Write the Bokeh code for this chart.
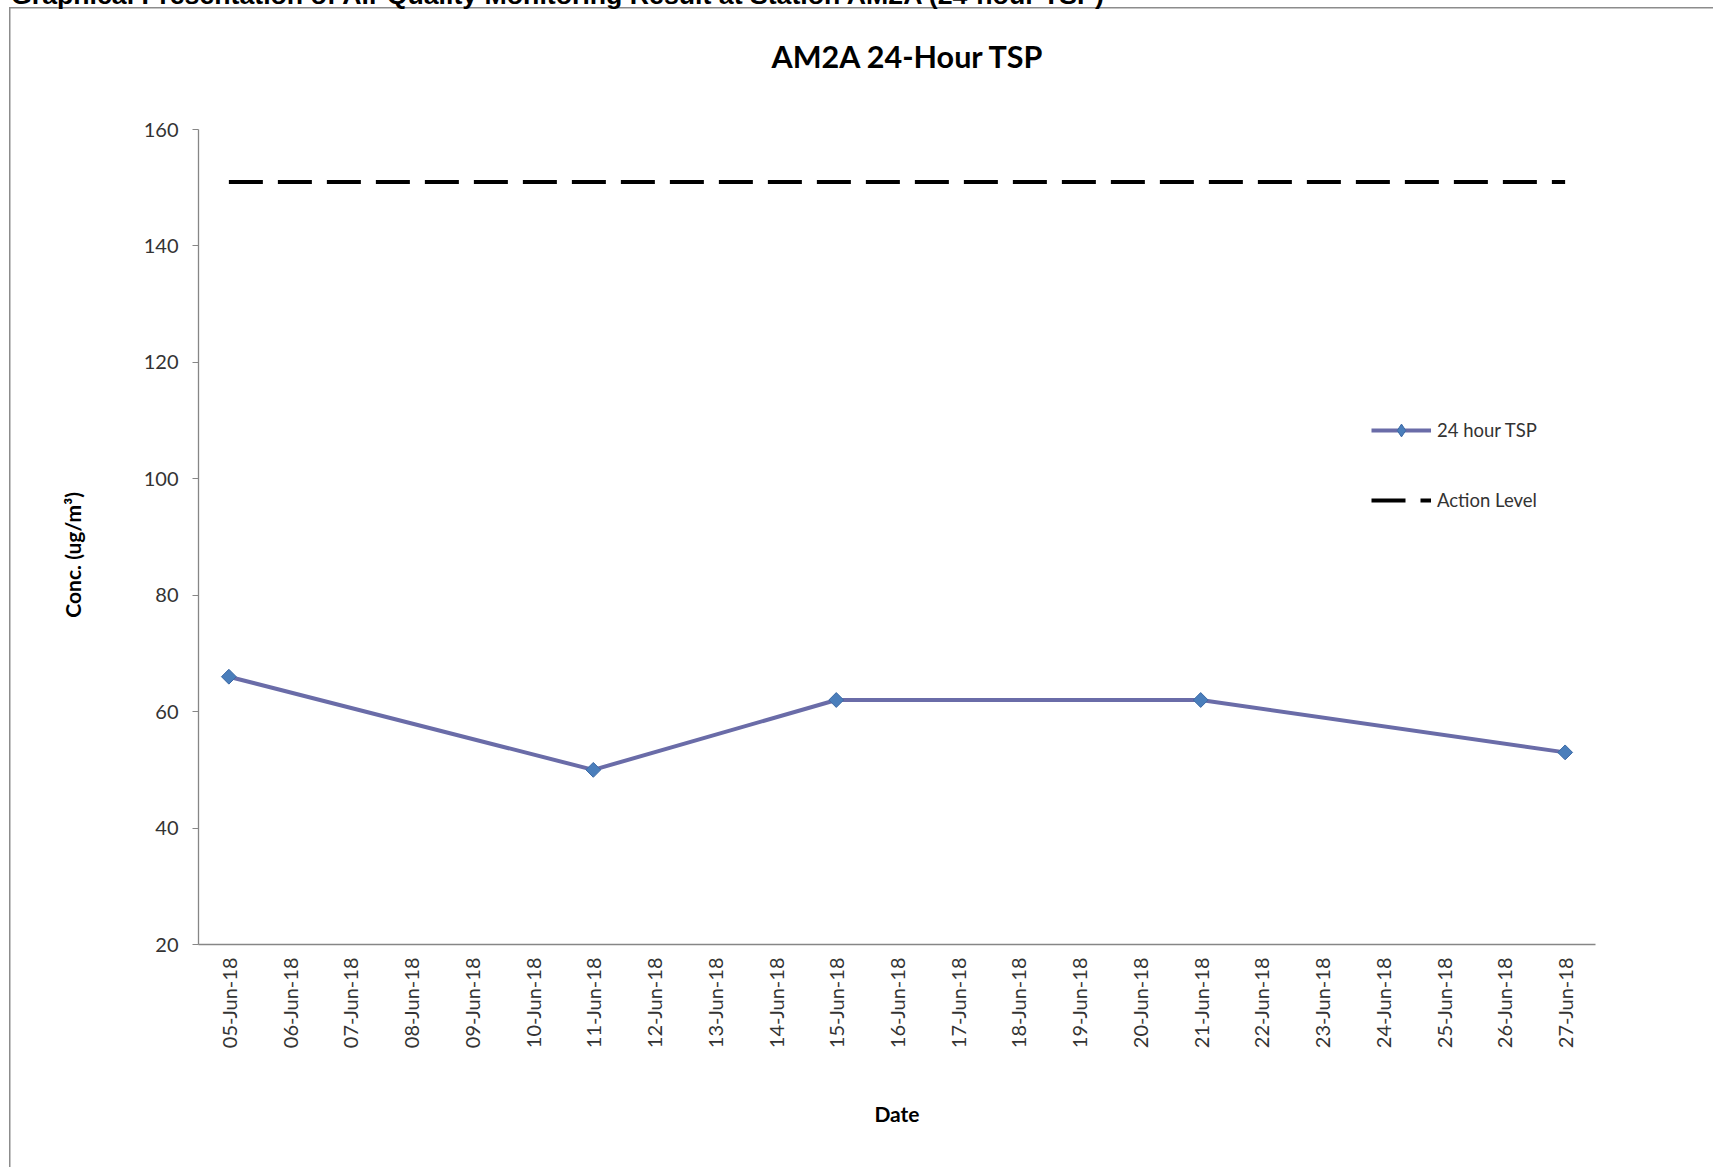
import math
from bokeh.plotting import figure
from bokeh.layouts import column
from bokeh.models import (Legend, LegendItem, FactorRange, Range1d, FixedTicker, Div)
from bokeh.embed import file_html
from bokeh.resources import INLINE

# ---------------- data ----------------
dates = ["05-Jun-18", "06-Jun-18", "07-Jun-18", "08-Jun-18", "09-Jun-18",
         "10-Jun-18", "11-Jun-18", "12-Jun-18", "13-Jun-18", "14-Jun-18",
         "15-Jun-18", "16-Jun-18", "17-Jun-18", "18-Jun-18", "19-Jun-18",
         "20-Jun-18", "21-Jun-18", "22-Jun-18", "23-Jun-18", "24-Jun-18",
         "25-Jun-18", "26-Jun-18", "27-Jun-18"]
tsp_dates = ["05-Jun-18", "11-Jun-18", "15-Jun-18", "21-Jun-18", "27-Jun-18"]
tsp_values = [66, 50, 62, 62, 53]
action_dates = ["05-Jun-18", "27-Jun-18"]
action_values = [151, 151]
y_ticks = [20, 40, 60, 80, 100, 120, 140, 160]

header_text = "Graphical Presentation of Air Quality Monitoring Result at Station AM2A (24-hour TSP)"
chart_title = "AM2A 24-Hour TSP"
y_label = "Conc. (ug/m\u00b3)"
x_label = "Date"

# ---------------- layout ----------------
W = 1713
SHIFT = 18          # whole column is moved up so the page header is cut at the top
HDR_H = 25          # header strip  (page y -18..7)
TTL_H = 70          # title strip   (page y 7..77)
H = 1167 + SHIFT - HDR_H - TTL_H
CANVAS_TOP = -SHIFT + HDR_H + TTL_H      # page y of the figure canvas
FL, FR = 198, 1595
FT = 129 - CANVAS_TOP
FB = 944 - CANVAS_TOP

font = "Lato"
tick_col = "#333333"

p = figure(width=W, height=H, output_backend="svg", toolbar_location=None,
           x_range=FactorRange(factors=dates, range_padding=0),
           y_range=Range1d(20, 160),
           min_border_left=FL, min_border_right=W - FR,
           min_border_top=FT, min_border_bottom=H - FB)
p.outline_line_color = None
p.grid.visible = False
p.background_fill_alpha = 0
p.border_fill_alpha = 0

p.yaxis.ticker = FixedTicker(ticks=y_ticks)
p.yaxis.axis_line_color = "#868686"
p.yaxis.axis_line_width = 1.3
p.yaxis.major_tick_line_color = "#868686"
p.yaxis.major_tick_out = 6
p.yaxis.major_tick_in = 0
p.yaxis.minor_tick_line_color = None
p.yaxis.major_label_standoff = 14
p.yaxis.major_label_text_font = font
p.yaxis.major_label_text_font_size = "20px"
p.yaxis.major_label_text_color = tick_col
# trailing no-break spaces nudge the centred label slightly downward, as in the original
p.yaxis.axis_label = y_label + "\u00a0" * 7
p.yaxis.axis_label_text_font = font
p.yaxis.axis_label_text_font_style = "bold"
p.yaxis.axis_label_text_font_size = "21px"
p.yaxis.axis_label_text_color = "black"
p.yaxis.axis_label_standoff = 56

p.xaxis.axis_line_color = "#868686"
p.xaxis.axis_line_width = 1.3
p.xaxis.major_tick_line_color = None
p.xaxis.major_tick_out = 0
p.xaxis.major_label_orientation = math.pi / 2
p.xaxis.major_label_standoff = 13
p.xaxis.major_label_text_font = font
p.xaxis.major_label_text_font_size = "20px"
p.xaxis.major_label_text_color = tick_col
p.xaxis.axis_label = x_label
p.xaxis.axis_label_text_font = font
p.xaxis.axis_label_text_font_style = "bold"
p.xaxis.axis_label_text_font_size = "21px"
p.xaxis.axis_label_text_color = "black"
p.xaxis.axis_label_standoff = 50

# action level
dash_r = p.line(x=action_dates, y=action_values, line_color="black",
                line_width=4, line_dash="34 15")
# series
line_r = p.line(x=tsp_dates, y=tsp_values, line_color="#6A6CA8", line_width=4)
# diamond used for the legend swatch (sits fully under the rotated squares)
legend_pts = p.scatter(x=tsp_dates, y=tsp_values, marker="diamond", size=12,
                       fill_color="#4A7EBB", line_color="#3D6AA6", line_width=1)
pts_r = p.scatter(x=tsp_dates, y=tsp_values, marker="square", angle=math.pi / 4,
                  size=10.5, fill_color="#4A7EBB", line_color="#3D6AA6", line_width=1)

legend = Legend(items=[LegendItem(label="24 hour TSP", renderers=[line_r, legend_pts]),
                       LegendItem(label="Action Level", renderers=[dash_r])],
                location=(1173, 428), glyph_width=60, glyph_height=32,
                spacing=38, padding=0, margin=0, label_standoff=6,
                border_line_color=None, background_fill_alpha=0,
                label_text_font=font, label_text_font_size="18.5px",
                label_text_color=tick_col)
p.add_layout(legend)

header = Div(text=('<div style="font-family:\'Liberation Sans\',Arial,sans-serif;'
                   'font-weight:bold;font-size:26.7px;line-height:26.5px;white-space:nowrap;'
                   'margin:0;padding:0 0 0 11px;color:#000">' + header_text + '</div>'),
             width=W, height=HDR_H, margin=0)

title_div = Div(text=('<div style="font-family:Lato,sans-serif;font-weight:bold;'
                      'font-size:30.5px;line-height:30px;white-space:nowrap;margin:0;'
                      'padding:34px 0 0 0;width:1814px;text-align:center;color:#000">'
                      + chart_title + '</div>'),
                width=W, height=TTL_H, margin=0)

border_css = ("linear-gradient(#8C8C8C,#8C8C8C) 9px %dpx / 1.5px 100%% no-repeat, "
              "linear-gradient(#8C8C8C,#8C8C8C) 9px %dpx / 100%% 1.5px no-repeat, #ffffff"
              % (HDR_H, HDR_H))
page = column(header, title_div, p, spacing=0, margin=0,
              styles={"transform": "translateY(-%dpx)" % SHIFT,
                      "margin-bottom": "-%dpx" % SHIFT,
                      "background": border_css})

open("out.html", "w").write(file_html(page, INLINE))
